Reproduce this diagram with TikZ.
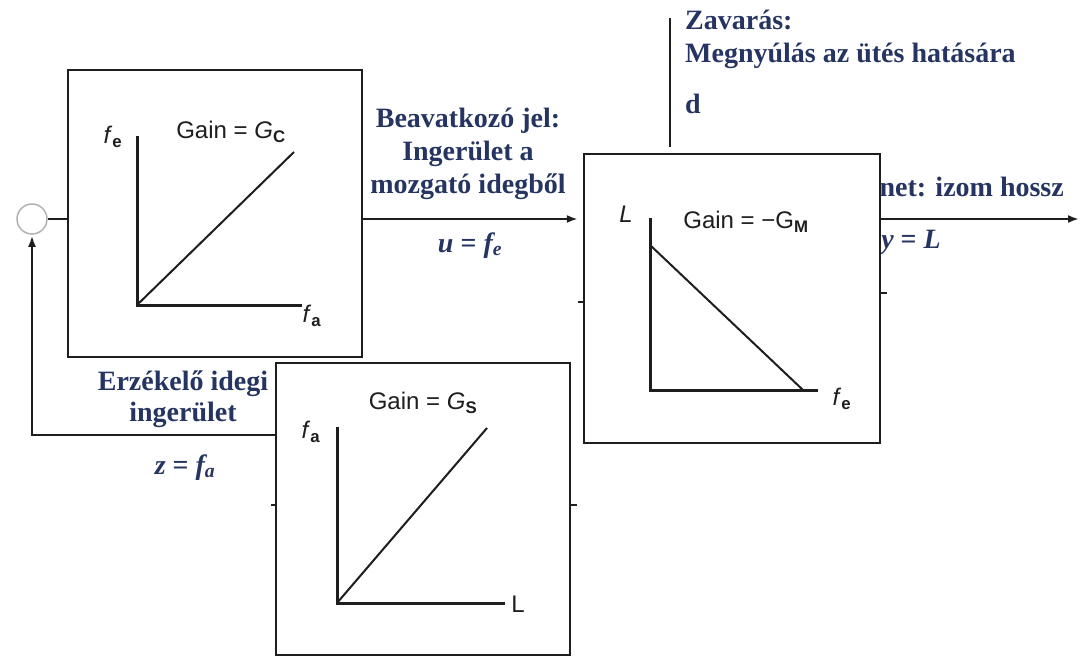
\documentclass[tikz,border=0pt]{standalone}
\usepackage{fontspec}
\setmainfont{Liberation Serif}
\newfontfamily\gainfont{Liberation Sans}
\usetikzlibrary{arrows.meta}
\definecolor{navy}{RGB}{38,52,98}
\definecolor{ink}{RGB}{30,30,30}
\begin{document}
\begin{tikzpicture}[x=1pt,y=-1pt,
  blkbox/.style={draw=ink,fill=white,line width=2.4pt,inner sep=0pt},
  lbl/.style={text=navy,font=\fontsize{28}{33}\selectfont\bfseries,align=center,inner sep=0pt},
  gainlbl/.style={text=ink,font=\gainfont\fontsize{24}{28}\selectfont,inner sep=0pt},
  axlbl/.style={text=ink,font=\gainfont\fontsize{24}{28}\selectfont,inner sep=0pt},
  axisline/.style={draw=ink,line width=3pt,line join=miter},
  gainline/.style={draw=ink,line width=2pt},
  conn/.style={draw=ink,line width=2pt},
  arr/.style={conn,-{Latex[length=11pt,width=8pt]}},
  stub/.style={draw=ink,line width=2pt}]
\useasboundingbox[fill=white] (0,0) rectangle (1080,659);

% labels partly hidden behind the boxes
\node[lbl,anchor=base east] (outtxt) at (1064,196) {Kimenet: izom hossz};
\node[lbl,anchor=base east] (outvar) at (941,248) {{\itshape y} = {\itshape L}};
\node[lbl,anchor=base] (fbtxt) at (183,421) {Erzékelő idegi\\[-2pt]ingerület};

% blocks
\node[blkbox,minimum width=294pt,minimum height=287pt] (C) at (215,213.5) {};
\node[blkbox,minimum width=294pt,minimum height=292pt] (S) at (423,509) {};
\node[blkbox,minimum width=296pt,minimum height=289pt] (M) at (732,298.5) {};
\node[draw=gray!60,line width=1.5pt,circle,minimum size=30pt,inner sep=0pt,fill=white] (sum) at (32,219) {};

% connectors
\coordinate (outend) at (1079,219);
\coordinate (fbl) at (30,435);
\coordinate (dtop) at (670,18);
\draw[conn] (sum.east) -- (sum.east -| C.west);
\draw[arr,shorten >=5pt] (C.east |- sum) -- (M.west |- sum);
\draw[arr] (M.east |- outend) -- (outend);
\draw[arr,shorten >=1pt] (S.west |- fbl) -| (sum.south);
\draw[conn,shorten >=6pt] (dtop) -- (dtop |- M.north);

% small stubs on block edges
\draw[stub] (S.west |- 0,505) -- ++(-4,0);
\draw[stub] (S.east |- 0,505) -- ++(6,0);
\draw[stub] (M.east |- 0,293) -- ++(6,0);
\draw[stub] (M.west |- 0,302) -- ++(-5,0);

% signal labels
\node[lbl,anchor=base] (utxt) at (468,193) {Beavatkozó jel:\\Ingerület a\\mozgató idegből};
\node[lbl,anchor=base] (uvar) at (470,252) {{\itshape u} = {\itshape f}\textsubscript{\itshape e}};
\node[lbl,anchor=base] (zvar) at (185,474) {{\itshape z} = {\itshape f}\textsubscript{\itshape a}};
\node[lbl,anchor=base west] (dtxt) at (685,29) {Zavarás:};
\node[lbl,anchor=base west] (dtxt2) at (685,62) {Megnyúlás az ütés hatására};
\node[lbl,anchor=base west] (dvar) at (685,113) {d};

% controller plot
\coordinate (Co) at (137,305);
\draw[axisline] (137,136) -- (Co) -- (302,305);
\draw[gainline] (Co) -- (294,152);
\node[gainlbl] (Cg) at (231,132) {Gain = \textit{G}\textsubscript{\textbf{C}}};
\node[axlbl] (Cy) at (113,137) {\textit{f}\textsubscript{\textbf{e}}};
\node[axlbl] (Cx) at (312,316) {\textit{f}\textsubscript{\textbf{a}}};

% sensor plot
\coordinate (So) at (337,603);
\draw[axisline] (337,427) -- (So) -- (505,603);
\draw[gainline] (So) -- (487,428);
\node[gainlbl] (Sg) at (423,403) {Gain = \textit{G}\textsubscript{\textbf{S}}};
\node[axlbl] (Sy) at (311,432) {\textit{f}\textsubscript{\textbf{a}}};
\node[axlbl] (Sx) at (518,604) {L};

% muscle plot
\coordinate (Mo) at (650,390);
\draw[axisline] (650,218) -- (Mo) -- (818,390);
\draw[gainline] (650,245) -- (803,390);
\node[gainlbl] (Mg) at (746,222) {Gain = −G\textsubscript{\textbf{M}}};
\node[axlbl] (My) at (626,214) {\textit{L}};
\node[axlbl] (Mx) at (842,399) {\textit{f}\textsubscript{\textbf{e}}};
\end{tikzpicture}
\end{document}
